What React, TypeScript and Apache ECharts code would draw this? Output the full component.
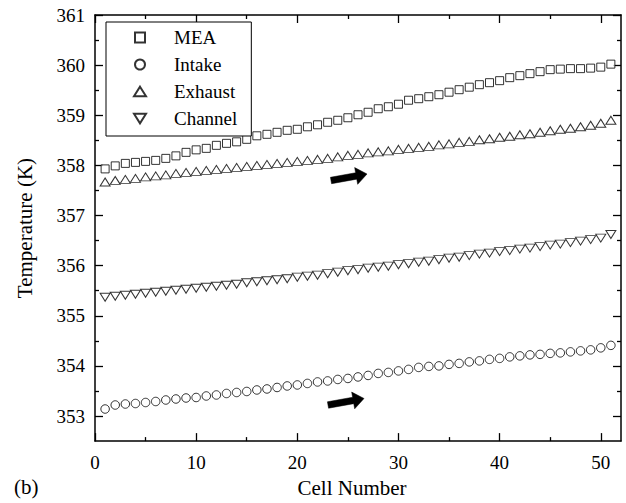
import React, { useEffect, useRef } from "react";
import * as echarts from "echarts";

const cells = [
  1, 2, 3, 4, 5, 6, 7, 8, 9, 10, 11, 12, 13, 14, 15, 16, 17, 18, 19, 20, 21, 22, 23, 24, 25, 26,
  27, 28, 29, 30, 31, 32, 33, 34, 35, 36, 37, 38, 39, 40, 41, 42, 43, 44, 45, 46, 47, 48, 49, 50, 51,
];

const mea = [
  357.93, 357.99, 358.04, 358.06, 358.08, 358.1, 358.14, 358.19, 358.26, 358.31, 358.34, 358.4,
  358.44, 358.47, 358.52, 358.59, 358.62, 358.66, 358.7, 358.72, 358.77, 358.81, 358.86, 358.9,
  358.95, 359.01, 359.06, 359.13, 359.17, 359.22, 359.3, 359.33, 359.37, 359.41, 359.46, 359.51,
  359.56, 359.61, 359.65, 359.69, 359.75, 359.79, 359.83, 359.87, 359.91, 359.92, 359.93, 359.93,
  359.94, 359.96, 360.02,
];

const intake = [
  353.14, 353.22, 353.24, 353.25, 353.27, 353.29, 353.32, 353.34, 353.36, 353.37, 353.4, 353.42,
  353.45, 353.47, 353.49, 353.52, 353.54, 353.57, 353.6, 353.62, 353.65, 353.68, 353.7, 353.73,
  353.75, 353.78, 353.81, 353.85, 353.87, 353.9, 353.93, 353.97, 353.99, 354.0, 354.03, 354.05,
  354.08, 354.1, 354.13, 354.15, 354.18, 354.2, 354.22, 354.23, 354.25, 354.26, 354.28, 354.3,
  354.32, 354.36, 354.41,
];

const exhaust = [
  357.67, 357.7, 357.72, 357.74, 357.77, 357.79, 357.81, 357.84, 357.86, 357.88, 357.9, 357.92,
  357.94, 357.96, 357.98, 358.0, 358.02, 358.04, 358.06, 358.08, 358.1, 358.12, 358.14, 358.17,
  358.2, 358.22, 358.25, 358.27, 358.29, 358.32, 358.34, 358.36, 358.38, 358.41, 358.43, 358.46,
  358.48, 358.51, 358.53, 358.56, 358.58, 358.61, 358.63, 358.66, 358.69, 358.72, 358.74, 358.77,
  358.8, 358.84, 358.9,
];

const channel = [
  355.37, 355.39, 355.41, 355.43, 355.45, 355.47, 355.49, 355.51, 355.53, 355.55, 355.57, 355.59,
  355.61, 355.63, 355.66, 355.68, 355.7, 355.72, 355.74, 355.77, 355.79, 355.81, 355.84, 355.87,
  355.9, 355.92, 355.95, 355.97, 355.99, 356.02, 356.04, 356.07, 356.09, 356.12, 356.15, 356.17,
  356.2, 356.23, 356.25, 356.28, 356.3, 356.33, 356.35, 356.38, 356.41, 356.43, 356.46, 356.49,
  356.52, 356.55, 356.62,
];

const seriesNames = ["MEA", "Intake", "Exhaust", "Channel"];

const xMajorTicks = [0, 10, 20, 30, 40, 50];
const xMinorTicks = [5, 15, 25, 35, 45];
const yMajorTicks = [353, 354, 355, 356, 357, 358, 359, 360, 361];
const yMinorTicks = [353.5, 354.5, 355.5, 356.5, 357.5, 358.5, 359.5, 360.5];

const FONT = "'Times New Roman', 'Liberation Serif', serif";

const SQUARE = "path://M0,0 L10,0 L10,10 L0,10 Z";
const TRI_UP = "path://M5,0 L10,8 L0,8 Z";
const TRI_DOWN = "path://M0,0 L10,0 L5,8 Z";

function arrowPoints(
  tail: number[],
  tip: number[],
  shaftW: number,
  headL: number,
  headW: number
): number[][] {
  const dx = tip[0] - tail[0];
  const dy = tip[1] - tail[1];
  const len = Math.hypot(dx, dy);
  const ux = dx / len;
  const uy = dy / len;
  const nx = -uy;
  const ny = ux;
  const bx = tip[0] - ux * headL;
  const by = tip[1] - uy * headL;
  return [
    [tail[0] + (nx * shaftW) / 2, tail[1] + (ny * shaftW) / 2],
    [bx + (nx * shaftW) / 2, by + (ny * shaftW) / 2],
    [bx + (nx * headW) / 2, by + (ny * headW) / 2],
    [tip[0], tip[1]],
    [bx - (nx * headW) / 2, by - (ny * headW) / 2],
    [bx - (nx * shaftW) / 2, by - (ny * shaftW) / 2],
    [tail[0] - (nx * shaftW) / 2, tail[1] - (ny * shaftW) / 2],
  ];
}

export default function App() {
  const ref = useRef<HTMLDivElement>(null);

  useEffect(() => {
    if (!ref.current) return;
    const chart = echarts.init(ref.current, null, { renderer: "svg" });

    const axisLineStyle = { color: "#000", width: 1.5 };
    const labelStyle = { color: "#000", fontSize: 19, fontFamily: FONT };

    const mkX = (position: string, ticks: number[], len: number, showLine: boolean, showLabel: boolean, extra: any = {}) => ({
      type: "value",
      position,
      min: 0,
      max: 52,
      axisLine: { show: showLine, onZero: false, lineStyle: axisLineStyle },
      axisTick: { show: true, inside: true, length: len, customValues: ticks, lineStyle: { color: "#000", width: 1.3 } },
      axisLabel: showLabel
        ? { show: true, customValues: ticks, margin: 12, ...labelStyle }
        : { show: false },
      splitLine: { show: false },
      ...extra,
    });

    const mkY = (position: string, ticks: number[], len: number, showLine: boolean, showLabel: boolean, extra: any = {}) => ({
      type: "value",
      position,
      min: 352.5,
      max: 361,
      axisLine: { show: showLine, onZero: false, lineStyle: axisLineStyle },
      axisTick: { show: true, inside: true, length: len, customValues: ticks, lineStyle: { color: "#000", width: 1.3 } },
      axisLabel: showLabel
        ? { show: true, customValues: ticks, margin: 10, ...labelStyle }
        : { show: false },
      splitLine: { show: false },
      ...extra,
    });

    const markerStyle = { color: "#fff", borderColor: "#000", borderWidth: 1 };

    const mkSeries = (name: string, values: number[], symbol: string, size: any) => ({
      name,
      type: "scatter",
      xAxisIndex: 0,
      yAxisIndex: 0,
      symbol,
      symbolSize: size,
      itemStyle: markerStyle,
      data: cells.map((c, i) => [c, values[i]]),
      z: 3,
    });

    const arrowStyle = { fill: "#000", stroke: "#000", lineWidth: 0.5 };

    chart.setOption({
      animation: false,
      backgroundColor: "#fff",
      grid: { left: 95, right: 5, top: 15, bottom: 59, containLabel: false },
      xAxis: [
        mkX("bottom", xMajorTicks, 8, true, true, {
          name: "Cell Number",
          nameLocation: "middle",
          nameGap: 34,
          nameTextStyle: { color: "#000", fontSize: 21, fontFamily: FONT, padding: [0, 12, 0, 0] },
        }),
        mkX("bottom", xMinorTicks, 4, false, false),
        mkX("top", xMajorTicks, 8, true, false),
        mkX("top", xMinorTicks, 4, false, false),
      ],
      yAxis: [
        mkY("left", yMajorTicks, 8, true, true, {
          name: "Temperature (K)",
          nameLocation: "middle",
          nameGap: 60,
          nameTextStyle: { color: "#000", fontSize: 21, fontFamily: FONT },
        }),
        mkY("left", yMinorTicks, 4, false, false),
        mkY("right", yMajorTicks, 8, true, false),
        mkY("right", yMinorTicks, 4, false, false),
      ],
      legend: {
        data: seriesNames,
        orient: "vertical",
        left: 106,
        top: 22,
        padding: [6, 14, 8, 27],
        itemWidth: 12,
        itemHeight: 10,
        itemGap: 8,
        selectedMode: false,
        borderColor: "#000",
        borderWidth: 1,
        borderRadius: 0,
        backgroundColor: "#fff",
        textStyle: { color: "#000", fontSize: 19, fontFamily: FONT, padding: [0, 0, 0, 23] },
      },
      series: [
        mkSeries("MEA", mea, SQUARE, [8, 8]),
        mkSeries("Intake", intake, "circle", 8.5),
        mkSeries("Exhaust", exhaust, TRI_UP, [10, 8]),
        mkSeries("Channel", channel, TRI_DOWN, [10, 8]),
      ],
      graphic: [
        {
          type: "polygon",
          shape: { points: arrowPoints([331, 180.5], [367, 174], 6.5, 11, 17) },
          style: arrowStyle,
          z: 10,
        },
        {
          type: "polygon",
          shape: { points: arrowPoints([328, 405], [364, 398.5], 6.5, 11, 17) },
          style: arrowStyle,
          z: 10,
        },
        {
          type: "text",
          left: 14,
          top: 476,
          style: { text: "(b)", fill: "#000", fontSize: 21, fontFamily: FONT },
        },
      ],
    });

    return () => chart.dispose();
  }, []);

  return (
    <div
      ref={ref}
      style={{ position: "fixed", left: 0, top: 0, width: 626, height: 503 }}
    />
  );
}
